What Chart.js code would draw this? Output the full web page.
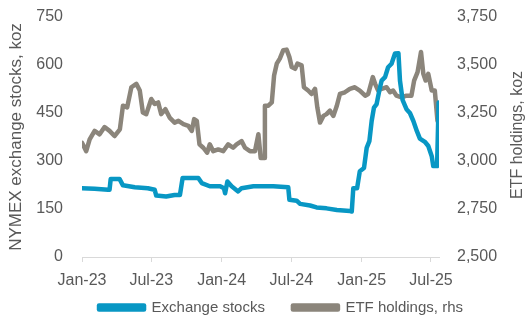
<!DOCTYPE html>
<html>
<head>
<meta charset="utf-8">
<script src="https://cdn.jsdelivr.net/npm/chart.js@4.4.1/dist/chart.umd.min.js"></script>
<style>
  html, body { margin: 0; padding: 0; background: #ffffff; }
  #wrap { width: 532px; height: 323px; }
</style>
</head>
<body>
<div id="wrap"><canvas id="silver_chart"></canvas></div>
<script>
// x values are days since 1 Jan 2023
const tickDays = [0, 181, 365, 547, 731, 912];
const tickLabels = ['Jan-23', 'Jul-23', 'Jan-24', 'Jul-24', 'Jan-25', 'Jul-25'];

// NYMEX exchange stocks, koz (left axis)
const stockDay = [0, 33, 68, 72, 75, 98, 107, 138, 172, 190, 194, 220, 242, 256, 263, 304, 313, 334,
  361, 371, 374, 380, 391, 408, 417, 448, 500, 539, 542, 561, 570, 596, 613, 639, 666, 700, 705,
  709, 719, 726, 737, 744, 751, 757, 763, 770, 777, 783, 792, 800, 809, 818, 827, 831, 838, 848,
  857, 866, 875, 883, 896, 905, 914, 918, 928, 932];
const stockKoz = [215, 213, 210, 210, 244, 244, 224, 218, 215, 210, 192, 189, 194, 194, 247, 247, 231, 221,
  221, 215, 199, 236, 221, 205, 215, 221, 221, 218, 179, 176, 166, 161, 155, 152, 147, 144, 142,
  215, 215, 268, 278, 341, 362, 425, 467, 478, 520, 551, 562, 593, 604, 636, 637, 551, 490, 462,
  450, 425, 394, 370, 360, 347, 315, 284, 284, 483];

// ETF holdings, koz (right axis)
const etfDay = [0, 11, 20, 33, 46, 59, 72, 85, 99, 107, 118, 129, 142, 151, 159, 168, 181, 190, 199,
  207, 218, 229, 242, 252, 265, 278, 287, 293, 300, 307, 317, 327, 334, 343, 356, 369, 382, 395,
  404, 417, 426, 439, 452, 461, 467, 476, 478, 487, 496, 502, 509, 517, 526, 535, 542, 548, 557,
  563, 574, 580, 591, 600, 609, 615, 622, 631, 639, 648, 657, 666, 674, 687, 700, 713, 726, 740,
  748, 760, 766, 774, 783, 796, 805, 813, 822, 835, 848, 861, 868, 877, 886, 892, 898, 905, 914,
  922, 929];
const etfKoz = [3095, 3051, 3113, 3157, 3139, 3177, 3157, 3130, 3165, 3288, 3279, 3384, 3402, 3367, 3253, 3244, 3323, 3297, 3305,
  3244, 3270, 3226, 3200, 3209, 3192, 3183, 3157, 3218, 3209, 3087, 3069, 3043, 3087, 3051, 3060, 3051, 3087, 3069,
  3087, 3104, 3069, 3051, 3051, 3139, 3016, 3016, 3288, 3288, 3305, 3445, 3507, 3533, 3577, 3580, 3541, 3489, 3480,
  3507, 3498, 3384, 3367, 3349, 3376, 3279, 3200, 3235, 3244, 3262, 3235, 3288, 3349, 3358, 3376, 3384, 3367, 3340,
  3349, 3437, 3402, 3367, 3376, 3384, 3358, 3367, 3340, 3331, 3340, 3340, 3419, 3463, 3568, 3454, 3419, 3454, 3367,
  3367, 3209];

const textColor = '#595959';
const fontName = '"Liberation Sans", Arial, sans-serif';

// legend position tweak (Excel puts it a bit right of centre)
const legendShift = {
  id: 'legendShift',
  afterLayout(chart) {
    const lg = chart.legend;
    lg.left += 15;
    lg.right += 15;
    lg.top = 272;
    lg.bottom = 323;
    lg.height = 51;
  }
};

// right axis title reads bottom-to-top like the left one
const rightTitle = {
  id: 'rightTitle',
  afterDraw(chart) {
    const ctx = chart.ctx;
    ctx.save();
    ctx.translate(518, 135);
    ctx.rotate(-Math.PI / 2);
    ctx.font = '16px ' + fontName;
    ctx.fillStyle = textColor;
    ctx.textAlign = 'center';
    ctx.textBaseline = 'middle';
    ctx.fillText('ETF holdings, koz', 0, 0);
    ctx.restore();
  }
};

// fixed axis box sizes so the plot area sits where Excel put it
function fixWidth(w) {
  return (axis) => {
    axis.width = w;
    axis.paddingTop = 0;
    axis.paddingBottom = 0;
  };
}

const config = {
  type: 'line',
  data: {
    datasets: [
      {
        label: 'Exchange stocks',
        data: stockDay.map((d, i) => ({ x: d, y: stockKoz[i] })),
        borderColor: '#0897c4',
        backgroundColor: '#0897c4',
        borderWidth: 4.5,
        pointRadius: 0,
        borderJoinStyle: 'round',
        borderCapStyle: 'round',
        yAxisID: 'y'
      }, {
        label: 'ETF holdings, rhs',
        data: etfDay.map((d, i) => ({ x: d, y: etfKoz[i] })),
        borderColor: '#8b857b',
        backgroundColor: '#8b857b',
        borderWidth: 4.5,
        pointRadius: 0,
        borderJoinStyle: 'round',
        borderCapStyle: 'round',
        yAxisID: 'y1'
      }
    ]
  },
  options: {
    responsive: true,
    maintainAspectRatio: false,
    animation: false,
    layout: { padding: { top: 17, left: 0, right: 0, bottom: 0 } },
    plugins: {
      tooltip: { enabled: false },
      legend: {
        position: 'bottom',
        maxHeight: 36,
        labels: {
          color: textColor,
          font: { family: fontName, size: 15 },
          boxWidth: 45,
          boxHeight: 4,
          padding: 28
        }
      }
    },
    scales: {
      x: {
        type: 'linear',
        min: 0,
        max: 933,
        afterBuildTicks: (axis) => {
          axis.ticks = tickDays.map((v) => ({ value: v }));
        },
        afterFit: (axis) => { axis.height = 30; },
        ticks: {
          color: textColor,
          font: { family: fontName, size: 16 },
          padding: 9,
          maxRotation: 0,
          autoSkip: false,
          callback: (value) => tickLabels[tickDays.indexOf(value)]
        },
        grid: { display: true, drawOnChartArea: false, drawTicks: true, tickLength: 5, color: '#d9d9d9' },
        border: { display: true, color: '#d9d9d9', width: 1 }
      },
      y: {
        position: 'left',
        min: 0,
        max: 750,
        afterFit: fixWidth(82),
        ticks: {
          stepSize: 150,
          color: textColor,
          font: { family: fontName, size: 16 },
          padding: 19
        },
        grid: { display: false, drawTicks: false },
        border: { display: false },
        title: {
          display: true,
          text: 'NYMEX exchange stocks, koz',
          color: textColor,
          font: { family: fontName, size: 17 },
          padding: { top: 6, bottom: 0 }
        }
      },
      y1: {
        position: 'right',
        min: 2500,
        max: 3750,
        afterFit: fixWidth(93),
        ticks: {
          stepSize: 250,
          color: textColor,
          font: { family: fontName, size: 16 },
          padding: 18,
          callback: (v) => v.toLocaleString('en-US')
        },
        grid: { display: false, drawTicks: false },
        border: { display: false }
      }
    }
  },
  plugins: [legendShift, rightTitle]
};

const myChart = new Chart(document.getElementById('silver_chart'), config);
</script>
</body>
</html>
